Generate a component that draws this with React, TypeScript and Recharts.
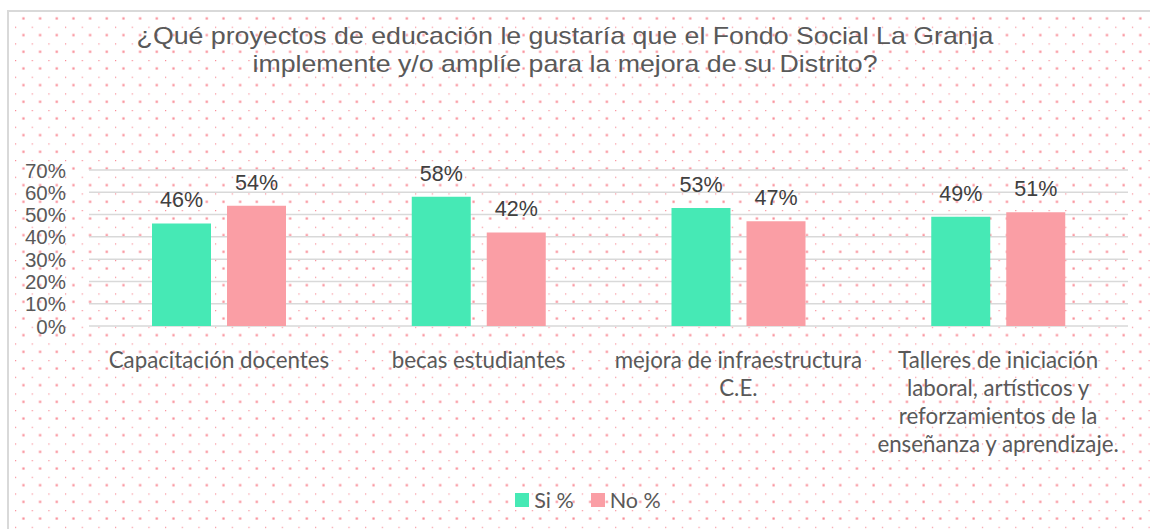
import React from 'react';
import { BarChart, Bar, XAxis, YAxis, CartesianGrid, Legend, LabelList } from 'recharts';

const categories = [
  'Capacitación docentes',
  'becas estudiantes',
  'mejora de infraestructura\nC.E.',
  'Talleres de iniciación\nlaboral, artísticos y\nreforzamientos de la\nenseñanza y aprendizaje.',
];
const siValues = [46, 58, 53, 49];
const noValues = [54, 42, 47, 51];
const yTicks = [0, 10, 20, 30, 40, 50, 60, 70];
const seriesNames = ['Si %', 'No %'];
const titleLines = [
  '¿Qué proyectos de educación le gustaría que el Fondo Social La Granja',
  'implemente y/o amplíe para la mejora de su Distrito?',
];

const GREEN = '#46E9B5';
const PINK = '#FA9EA5';
const TEXT = '#595959';
const ARIAL = "'Liberation Sans', Arial, sans-serif";

const data = categories.map((c, i) => ({ category: c, si: siValues[i], no: noValues[i] }));

const YTick = (props: any) => {
  const { y, payload } = props;
  return (
    <text x={66} y={y} textAnchor="end" dominantBaseline="central" fontFamily={ARIAL} fontSize={20.5} fill={TEXT}>
      {payload.value}%
    </text>
  );
};

const XTick = (props: any) => {
  const { x, y, payload } = props;
  const lines = String(payload.value).split('\n');
  return (
    <text textAnchor="middle" fontFamily="Lato, sans-serif" fontSize={22.3} fill={TEXT}>
      {lines.map((l, i) => (
        <tspan key={i} x={x} y={y + 33 + i * 28} dominantBaseline="central">{l}</tspan>
      ))}
    </text>
  );
};

const LegendContent = () => (
  <div style={{ display: 'flex', justifyContent: 'center', alignItems: 'center', height: 24, fontFamily: 'Lato, sans-serif', fontSize: 21.5, color: TEXT, paddingLeft: 48 }}>
    {seriesNames.map((n, i) => (
      <div key={n} style={{ display: 'flex', alignItems: 'center', marginLeft: i ? 17 : 0 }}>
        <div style={{ width: 14, height: 14, background: i ? PINK : GREEN, marginRight: 5 }} />
        <span>{n}</span>
      </div>
    ))}
  </div>
);

export default function App() {
  return (
    <div style={{ position: 'absolute', left: 0, top: 0, width: 1150, height: 529, overflow: 'hidden', background: '#fff' }}>
      <svg style={{ position: 'absolute', left: 0, top: 0 }} width={1150} height={529}>
        <defs>
          <pattern id="dots" patternUnits="userSpaceOnUse" width={16.67} height={16.67} x={15} y={10}>
            <rect x={-1} y={-1} width={2.2} height={2.2} fill="#f98a95" />
            <rect x={7.33} y={7.33} width={2.2} height={2.2} fill="#f98a95" />
          </pattern>
        </defs>
        <rect x={8} y={11} width={1200} height={600} fill="url(#dots)" stroke="#d9d9d9" strokeWidth={2} />
      </svg>
      <div style={{ position: 'absolute', left: 0, top: 0, width: 1130, textAlign: 'center', fontFamily: ARIAL, fontSize: 24, color: TEXT, lineHeight: '28px', paddingTop: 22, transform: 'scaleX(1.113)', transformOrigin: '565px 0' }}>
        {titleLines.map((l) => (<div key={l}>{l}</div>))}
      </div>
      <div style={{ position: 'absolute', left: 0, top: 0 }}>
        <BarChart width={1150} height={529} data={data} margin={{ top: 170, right: 22, bottom: 17, left: 0 }} barCategoryGap={63} barGap={16}>
          <CartesianGrid vertical={false} stroke="#d9d9d9" strokeWidth={1.5} />
          <XAxis dataKey="category" axisLine={false} tickLine={false} tickSize={0} tickMargin={0} height={162} tick={<XTick />} interval={0} />
          <YAxis domain={[0, 70]} ticks={yTicks} width={89} axisLine={false} tickLine={false} tick={<YTick />} interval={0} />
          <Legend verticalAlign="bottom" content={<LegendContent />} />
          <Bar dataKey="si" name={seriesNames[0]} fill={GREEN} isAnimationActive={false}>
            <LabelList dataKey="si" position="top" offset={16} formatter={(v: any) => `${v}%`} fontFamily={ARIAL} fontSize={21.5} fill="#404040" />
          </Bar>
          <Bar dataKey="no" name={seriesNames[1]} fill={PINK} isAnimationActive={false}>
            <LabelList dataKey="no" position="top" offset={16} formatter={(v: any) => `${v}%`} fontFamily={ARIAL} fontSize={21.5} fill="#404040" />
          </Bar>
        </BarChart>
      </div>
    </div>
  );
}
